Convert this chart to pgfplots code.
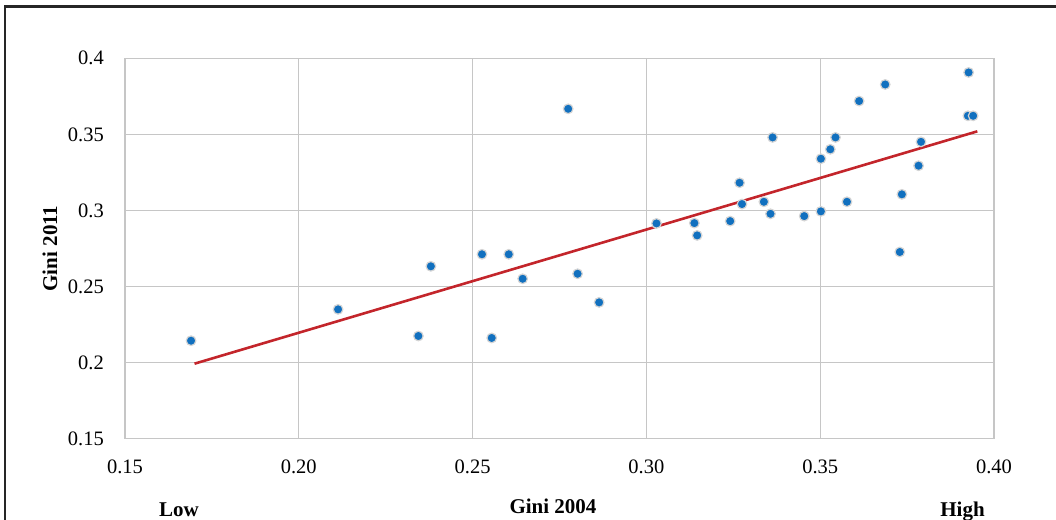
\documentclass[border=0pt]{standalone}
\usepackage{pgfplots}
\pgfplotsset{compat=1.18}
\usepackage{fontspec}
\setmainfont{Liberation Serif}
\definecolor{dotblue}{HTML}{1170BF}
\definecolor{halo}{HTML}{D4D4D4}
\definecolor{trendred}{HTML}{C3252B}
\definecolor{gridgray}{HTML}{C6C6C6}
\pgfplotstableread{
x y
0.1690 0.2144
0.2113 0.2350
0.2344 0.2175
0.2380 0.2633
0.2527 0.2712
0.2555 0.2162
0.2604 0.2712
0.2644 0.2551
0.2775 0.3668
0.2802 0.2584
0.2864 0.2396
0.3029 0.2915
0.3138 0.2917
0.3146 0.2836
0.3241 0.2930
0.3268 0.3182
0.3275 0.3042
0.3338 0.3057
0.3357 0.2978
0.3363 0.3480
0.3454 0.2963
0.3502 0.2994
0.3502 0.3340
0.3529 0.3402
0.3544 0.3480
0.3577 0.3057
0.3612 0.3719
0.3687 0.3828
0.3729 0.2727
0.3735 0.3106
0.3783 0.3294
0.3790 0.3451
0.3927 0.3907
0.3925 0.3622
0.3940 0.3622
}\gini
\begin{document}
\begin{tikzpicture}
\path[use as bounding box] (0bp,0bp) rectangle (1056bp,520bp);
\draw[line width=2.4bp, color=black!85] (5bp,-10bp) -- (5bp,513.3bp) -- (1070bp,513.3bp);
\begin{axis}[
  at={(125bp,81.3bp)}, anchor=south west,
  scale only axis, width=869bp, height=380.4bp,
  xmin=0.15, xmax=0.40, ymin=0.15, ymax=0.40,
  xtick={0.15,0.20,0.25,0.30,0.35,0.40},
  ytick={0.15,0.20,0.25,0.30,0.35,0.40},
  xticklabels={0.15,0.20,0.25,0.30,0.35,0.40},
  yticklabels={0.15,0.2,0.25,0.3,0.35,0.4},
  tick label style={font=\fontsize{20.5bp}{24bp}\selectfont, inner sep=0pt},
  xticklabel style={anchor=north, yshift=-21bp},
  yticklabel style={anchor=east, xshift=-21bp},
  major tick length=0pt,
  grid=major,
  major grid style={gridgray, line width=1.3bp},
  axis line style={gridgray, line width=1.3bp},
  xlabel={\textbf{Gini 2004}},
  xlabel style={at={(rel axis cs:0.4925,-0.196)}, anchor=base, inner sep=0pt, font=\fontsize{21bp}{25bp}\selectfont},
  ylabel={\textbf{Gini 2011}},
  ylabel style={at={(rel axis cs:-0.0863,0.5)}, anchor=center, inner sep=0pt, font=\fontsize{21bp}{25bp}\selectfont},
  clip=false,
]
\addplot[only marks, mark=*, mark size=4.8bp, mark options={fill=dotblue, draw=halo, line width=1.2bp}] table[x=x,y=y] {\gini};
\addplot[trendred, line width=2.6bp] coordinates {(0.170,0.1993) (0.3952,0.3520)};
\end{axis}
\node[anchor=base, inner sep=0pt, font=\fontsize{21bp}{25bp}\selectfont] at (179bp,3.3bp) {\textbf{Low}};
\node[anchor=base, inner sep=0pt, font=\fontsize{21bp}{25bp}\selectfont] at (962.5bp,3.3bp) {\textbf{High}};
\end{tikzpicture}
\end{document}
